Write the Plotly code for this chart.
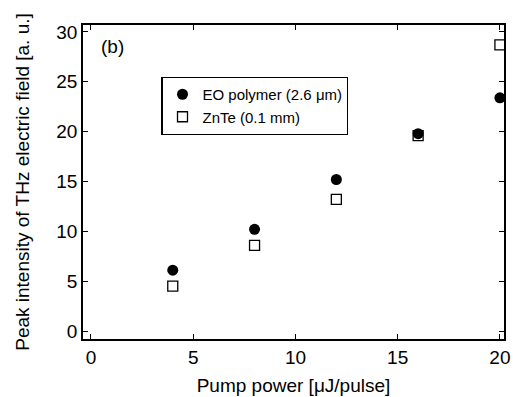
import plotly.graph_objects as go

pump = [4, 8, 12, 16, 20]
eo_polymer = [6.1, 10.2, 15.2, 19.8, 23.4]
znte = [4.5, 8.6, 13.2, 19.6, 28.7]

fig = go.Figure()
fig.add_trace(go.Scatter(x=pump, y=eo_polymer, mode="markers", name="EO polymer (2.6 μm)",
                         marker=dict(symbol="circle", size=11, color="black")))
fig.add_trace(go.Scatter(x=pump, y=znte, mode="markers", name="ZnTe (0.1 mm)",
                         marker=dict(symbol="square-open", size=10, color="black", line=dict(width=1.3))))

axis_common = dict(ticks="inside", ticklen=5, tickwidth=1, tickcolor="black", showline=True,
                   linecolor="black", linewidth=1.5, mirror="ticks", showgrid=False, zeroline=False,
                   tickfont=dict(size=19, color="black"), automargin=False)
fig.update_xaxes(range=[-0.39, 20.2], tickvals=[0, 5, 10, 15, 20],
                 title=dict(text="Pump power [μJ/pulse]", font=dict(size=19, color="black"), standoff=12),
                 **axis_common)
fig.update_yaxes(range=[-0.8, 30.7], tickvals=[0, 5, 10, 15, 20, 25, 30],
                 title=dict(text="Peak intensity of THz electric field [a. u.]", font=dict(size=19, color="black"), standoff=22),
                 **axis_common)

fig.add_annotation(text="(b)", x=0.038, y=0.972, xref="paper", yref="paper", showarrow=False,
                   xanchor="left", yanchor="top", font=dict(size=19, color="black"))

fig.update_layout(
    width=513, height=397,
    margin=dict(l=83, r=9, t=25, b=58),
    paper_bgcolor="white", plot_bgcolor="white",
    font=dict(family="Liberation Sans, Arial, sans-serif", color="black"),
    legend=dict(x=0.186, y=0.835, xanchor="left", yanchor="top", bordercolor="black", borderwidth=1.2,
                bgcolor="white", font=dict(size=15, color="black"), itemwidth=30, tracegroupgap=0),
    showlegend=True,
)
fig.write_html("out.html", config={"displayModeBar": False},
               post_script="document.body.style.margin='0';document.body.style.overflow='hidden';")
